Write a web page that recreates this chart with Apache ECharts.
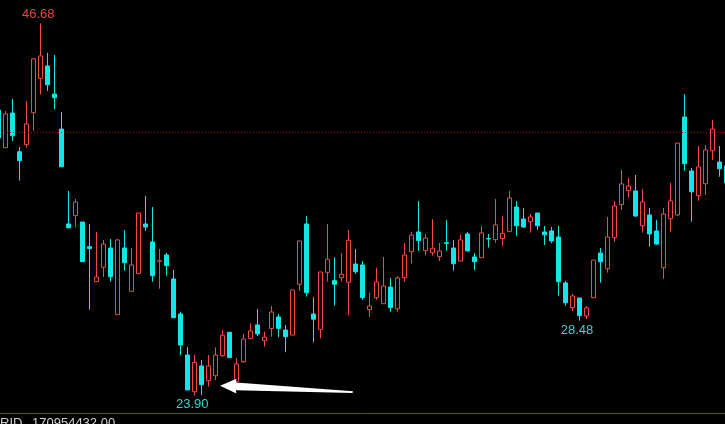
<!DOCTYPE html>
<html><head><meta charset="utf-8">
<script src="https://cdn.jsdelivr.net/npm/echarts@6/dist/echarts.min.js"></script>
<style>html,body{margin:0;padding:0;background:#000;overflow:hidden;width:725px;height:424px;position:relative}#c{position:absolute;left:-5px;top:0;width:735px;height:424px}</style>
</head><body><div id="c"></div>
<script>
// OHLC values (105 bars; first and last are cut by the frame)
const openP = [41.37,39.07,41.19,38.82,39.25,41.21,43.31,44.07,42.35,40.21,34.40,34.91,34.52,33.01,30.87,31.75,32.93,28.85,32.93,30.28,31.36,34.40,33.30,32.12,32.50,31.03,28.89,26.38,24.13,25.71,24.81,25.11,26.34,27.77,24.75,25.97,27.40,28.22,27.26,28.01,28.71,27.91,27.60,30.71,34.40,28.89,27.95,31.44,30.93,31.11,30.83,31.95,31.89,29.16,29.89,29.52,30.54,29.21,31.11,32.70,33.91,32.76,32.64,32.40,33.25,32.93,32.13,33.79,32.38,32.34,33.51,33.44,33.50,33.93,35.44,34.70,34.54,35.07,33.91,33.97,33.60,30.79,29.28,29.87,28.77,29.89,32.62,31.66,33.56,35.58,36.44,36.42,34.29,34.95,33.97,31.72,34.72,34.95,40.95,37.64,36.13,36.86,38.88,38.19,37.95];
const closeP = [39.66,41.13,39.80,38.27,40.52,44.51,44.68,42.92,42.13,37.90,34.17,35.74,32.09,32.89,31.15,33.17,31.17,33.42,32.03,31.89,35.07,34.21,31.23,32.14,31.85,28.66,26.99,24.24,25.93,24.56,25.71,26.38,27.59,26.22,25.83,27.36,27.85,27.67,27.48,29.01,28.01,27.50,30.36,33.36,30.19,28.57,31.46,32.24,30.71,31.32,33.40,31.48,29.89,29.38,30.85,30.60,29.28,31.09,32.50,33.72,33.38,33.54,32.91,32.75,33.21,31.97,33.42,32.75,32.09,33.85,33.48,34.34,33.83,35.99,34.29,34.21,34.83,34.29,33.74,33.36,30.87,29.58,29.99,28.79,29.26,32.19,32.09,33.60,35.50,36.85,36.72,34.89,35.74,33.79,33.17,35.01,35.81,39.35,38.09,36.37,37.89,38.93,40.21,37.78,36.91];
const lowP = [39.54,39.07,39.48,37.05,39.07,40.11,42.33,42.54,41.42,37.90,34.13,34.20,32.09,29.15,30.87,31.14,30.87,28.85,31.54,30.28,31.36,33.97,30.87,30.44,31.23,28.66,26.38,24.24,23.90,23.92,24.44,24.85,26.28,26.20,24.54,25.91,27.34,27.54,26.89,27.50,27.46,26.55,27.60,30.30,29.95,27.16,27.40,30.87,29.40,30.87,28.81,31.34,29.75,28.71,29.75,29.52,29.03,29.03,30.87,31.98,32.75,32.47,32.46,32.13,32.76,31.54,32.13,32.72,31.58,32.34,32.95,33.25,33.07,33.93,33.68,34.17,33.87,34.03,33.11,33.22,30.01,29.40,29.07,28.48,28.58,29.89,30.80,31.42,33.31,35.25,36.01,34.83,33.87,33.01,33.11,31.05,33.93,34.90,37.66,34.54,35.82,36.17,38.31,37.29,36.80];
const highP = [41.50,41.31,42.05,39.11,41.93,44.55,46.68,44.88,44.74,41.25,36.42,35.93,34.52,34.40,33.91,33.42,33.48,33.48,34.03,32.93,35.07,36.11,35.44,32.87,32.62,31.58,29.03,26.87,26.38,26.07,26.38,26.85,27.91,27.77,26.18,27.67,28.32,29.20,27.81,29.38,28.89,28.22,30.36,33.36,34.89,29.91,31.46,34.40,32.36,32.62,34.03,32.87,32.13,30.19,31.72,32.38,31.09,31.21,33.23,33.91,35.81,33.79,34.70,33.23,34.64,33.42,33.72,33.91,32.62,34.28,33.79,35.93,34.89,36.42,35.81,35.38,35.01,35.07,34.28,34.21,34.28,30.91,30.11,29.87,29.38,32.19,32.93,34.83,35.81,37.70,37.21,37.40,36.54,35.38,34.64,35.38,36.91,39.35,42.35,37.82,39.17,39.23,40.76,39.17,38.30];
const categories = openP.map((_, i) => String(i + 1));
const refLine = 40.01;
// annotated extremes: [category index, price, label]
const marks = [[6, 46.68, '46.68'], [28, 23.90, '23.90'], [83, 28.48, '28.48']];

const RED = '#f04a48', CYAN = '#14e6e6';
const DX = 5; // the chart div starts 5px left of the window
const ohlc = openP.map((o, i) => [o, closeP[i], lowP[i], highP[i]]);
const chart = echarts.init(document.getElementById('c'), null, {renderer: 'canvas'});
chart.setOption({
  animation: false,
  backgroundColor: '#000',
  grid: {left: 0, top: 0, width: 735, height: 424},
  xAxis: {type: 'category', data: categories, boundaryGap: true, show: false},
  yAxis: {type: 'value', min: 22.157, max: 48.106, show: false, splitLine: {show: false}},
  series: [{
    type: 'candlestick',
    data: ohlc,
    barWidth: 4,
    itemStyle: {color: '#000', color0: CYAN, borderColor: RED, borderColor0: CYAN, borderWidth: 1},
    markLine: {
      silent: true, symbol: ['none', 'none'], label: {show: false},
      lineStyle: {color: '#a01414', type: [1, 2], width: 1},
      data: [{yAxis: refLine}]
    },
    markPoint: {
      symbol: 'circle', symbolSize: 1, itemStyle: {color: 'transparent'}, silent: true,
      label: {show: true, position: 'inside', fontSize: 13, fontFamily: 'Liberation Sans, Arial, sans-serif'},
      data: [
        {coord: [marks[0][0], marks[0][1]], value: marks[0][2], label: {color: '#e04a40', offset: [-2.3, -8.7], formatter: marks[0][2]}},
        {coord: [marks[1][0], marks[1][1]], value: marks[1][2], label: {color: '#3cd2d2', offset: [-2.3, 8.5], formatter: marks[1][2]}},
        {coord: [marks[2][0], marks[2][1]], value: marks[2][2], label: {color: '#3cd2d2', offset: [-2.5, 9.5], formatter: marks[2][2]}}
      ]
    }
  }],
  graphic: [
    {type: 'polygon', silent: true, z: 100, x: DX,
     shape: {points: [[220, 385.7], [236.5, 378.8], [235.8, 382.5], [353, 391.3], [352.5, 393], [235.8, 390.3], [236.5, 393.6]]},
     style: {fill: '#ffffff'}},
    {type: 'line', silent: true, x: DX, shape: {x1: 0, y1: 413.5, x2: 725, y2: 413.5}, style: {stroke: '#b42828', lineWidth: 1}},
    {type: 'text', silent: true, left: DX, top: 417, style: {text: 'RID', fill: '#d0d0d0', font: '13px "Liberation Sans", Arial, sans-serif'}},
    {type: 'text', silent: true, left: DX + 32, top: 417, style: {text: '170954432.00', fill: '#d0d0d0', font: '13px "Liberation Sans", Arial, sans-serif'}}
  ]
});
</script></body></html>
